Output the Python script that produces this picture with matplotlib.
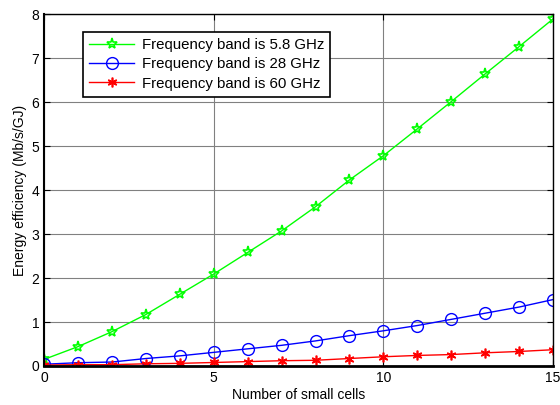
import matplotlib.pyplot as plt
import numpy as np

plt.rcParams['font.family'] = ['Liberation Sans', 'DejaVu Sans']

cells = np.arange(16)
ee_5_8 = [0.15, 0.44, 0.78, 1.17, 1.63, 2.09, 2.58, 3.07, 3.62, 4.23,
          4.78, 5.39, 6.01, 6.64, 7.26, 7.89]
ee_28 = [0.04, 0.075, 0.09, 0.17, 0.23, 0.31, 0.39, 0.47, 0.57, 0.69,
         0.80, 0.92, 1.06, 1.20, 1.34, 1.51]
ee_60 = [0.02, 0.03, 0.03, 0.05, 0.06, 0.08, 0.10, 0.12, 0.13, 0.17,
         0.21, 0.24, 0.26, 0.30, 0.33, 0.37]

fig = plt.figure(figsize=(5.6, 4.05), dpi=100)
ax = fig.add_axes([0.0786, 0.0963, 0.909, 0.869])

ax.plot(cells, ee_5_8, color='#00ff00', lw=1, marker='*', ms=8,
        mfc='none', mew=1.2, label='Frequency band is 5.8 GHz')
ax.plot(cells, ee_28, color='#0000ff', lw=1, marker='o', ms=8.5,
        mfc='none', mew=1, label='Frequency band is 28 GHz')
ax.plot(cells, ee_60, color='#ff0000', lw=1, marker=(6, 2, 0), ms=7,
        mew=1.2, label='Frequency band is 60 GHz')

ax.set_xlim(0, 15)
ax.set_ylim(0, 8)
ax.set_xticks([0, 5, 10, 15])
ax.set_yticks(range(9))
ax.grid(True, color='#808080', lw=0.8)
ax.tick_params(direction='in', labelsize=10, top=True, right=True, length=4)
for s in ax.spines.values():
    s.set_linewidth(1.0)
ax.spines['bottom'].set_linewidth(2)
ax.spines['left'].set_linewidth(1.5)

ax.set_xlabel('Number of small cells', fontsize=10, labelpad=2)
ax.set_ylabel('Energy efficiency (Mb/s/GJ)', fontsize=10, labelpad=3)

leg = ax.legend(loc='upper left', bbox_to_anchor=(0.0766, 0.949), fontsize=10.8,
                fancybox=False, edgecolor='black', framealpha=1,
                handlelength=3.0, handletextpad=0.5, borderpad=0.4,
                labelspacing=0.35, borderaxespad=0)
leg.get_frame().set_linewidth(1.2)

plt.savefig('out.png', dpi=100)
